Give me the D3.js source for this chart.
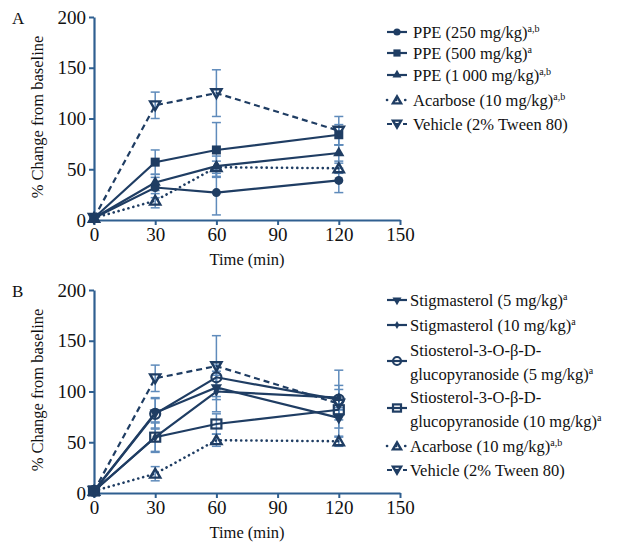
<!DOCTYPE html>
<html>
<head>
<meta charset="utf-8">
<script src="https://cdn.jsdelivr.net/npm/d3@7"></script>
<style>
  body { margin: 0; background: #fff; }
  text { font-family: "Liberation Serif", "DejaVu Serif", serif; fill: #111; }
</style>
</head>
<body>
<div id="chart"></div>
<script>
const times = [0, 30, 60, 120];
const xTicks = [0, 30, 60, 90, 120, 150];
const yTicks = [0, 50, 100, 150, 200];

// panel A
const ppe250 = [2, 32, 27, 39];
const ppe250Err = [0, 10, 22, 12];
const ppe500 = [2, 57, 69, 84];
const ppe500Err = [0, 12, 27, 10];
const ppe1000 = [2, 37, 53, 66];
const ppe1000Err = [0, 8, 10, 8];
const acarboseA = [2, 19, 52, 51];
const acarboseAErr = [0, 7, 6, 5];
const vehicleA = [2, 113, 125, 88];
const vehicleAErr = [0, 13, 23, 14];

// panel B
const stig5 = [2, 79, 104, 74];
const stig5Err = [0, 15, 12, 10];
const stig10 = [2, 55, 100, 94];
const stig10Err = [0, 14, 20, 12];
const stio5 = [2, 78, 114, 92];
const stio5Err = [0, 15, 12, 10];
const stio10 = [2, 55, 68, 82];
const stio10Err = [0, 15, 10, 10];
const acarboseB = [2, 19, 52, 51];
const acarboseBErr = [0, 7, 6, 5];
const vehicleB = [2, 113, 125, 88];
const vehicleBErr = [0, 13, 30, 33];

const lineCol = "#1f3d63";
const axisCol = "#2f5f90";
const errCol = "#5f8bbb";

const svg = d3.select("#chart").append("svg")
  .attr("width", 625).attr("height", 542);

// marker shapes
function drawMarker(g, type, x, y, s) {
  s = s || 1;
  if (type === "circle") {
    g.append("circle").attr("cx", x).attr("cy", y).attr("r", 4.5 * s).attr("fill", lineCol);
  } else if (type === "square") {
    g.append("rect").attr("x", x - 4.5 * s).attr("y", y - 4.5 * s).attr("width", 9 * s).attr("height", 9 * s).attr("fill", lineCol);
  } else if (type === "tri") {
    g.append("path").attr("d", d3.symbol(d3.symbolTriangle, 55 * s * s)()).attr("transform", `translate(${x},${y})`).attr("fill", lineCol);
  } else if (type === "otri") {
    g.append("path").attr("d", d3.symbol(d3.symbolTriangle, 45 * s * s)()).attr("transform", `translate(${x},${y + 1})`)
      .attr("fill", "none").attr("stroke", lineCol).attr("stroke-width", 2.4);
  } else if (type === "oinv") {
    g.append("path").attr("d", d3.symbol(d3.symbolTriangle, 45 * s * s)()).attr("transform", `translate(${x},${y - 1}) rotate(180)`)
      .attr("fill", "none").attr("stroke", lineCol).attr("stroke-width", 2.4);
  } else if (type === "inv") {
    g.append("path").attr("d", d3.symbol(d3.symbolTriangle, 55 * s * s)()).attr("transform", `translate(${x},${y}) rotate(180)`).attr("fill", lineCol);
  } else if (type === "dot") {
    g.append("path").attr("d", d3.symbol(d3.symbolDiamond, 30 * s * s)()).attr("transform", `translate(${x},${y})`).attr("fill", lineCol);
  } else if (type === "ocircle") {
    g.append("circle").attr("cx", x).attr("cy", y).attr("r", 5 * s).attr("fill", "none").attr("stroke", lineCol).attr("stroke-width", 2.2);
  } else if (type === "osquare") {
    g.append("rect").attr("x", x - 5 * s).attr("y", y - 4.5 * s).attr("width", 10 * s).attr("height", 9 * s)
      .attr("fill", "none").attr("stroke", lineCol).attr("stroke-width", 2.2);
  }
}

const dashes = { solid: null, dashed: "6,4", dotted: "0.1,5" };

function panel(opts) {
  const x = d3.scaleLinear().domain([0, 150]).range([94, 400]);
  const y = d3.scaleLinear().domain([0, 200]).range([opts.y0, opts.y0 - 203]);
  const g = svg.append("g");

  // axes
  const xa = g.append("g").attr("transform", `translate(0,${opts.y0})`)
    .call(d3.axisBottom(x).tickValues(xTicks).tickSize(5).tickPadding(3).tickSizeOuter(0));
  const ya = g.append("g").attr("transform", "translate(94,0)")
    .call(d3.axisLeft(y).tickValues(yTicks).tickSize(5).tickPadding(3).tickSizeOuter(0));
  [xa, ya].forEach(a => {
    a.select(".domain").attr("stroke", axisCol).attr("stroke-width", 2.2);
    a.selectAll(".tick line").attr("stroke", axisCol).attr("stroke-width", 2);
    a.selectAll(".tick text").style("font-family", "Liberation Serif").style("font-size", "19px").attr("fill", "#111");
  });

  g.append("text").attr("x", 12).attr("y", opts.y0 - 196).style("font-size", "17px").text(opts.label);
  g.append("text").attr("transform", `translate(43,${opts.y0 - 103}) rotate(-90)`)
    .attr("text-anchor", "middle").style("font-size", "16.5px").text("% Change from baseline");
  g.append("text").attr("x", 247).attr("y", opts.y0 + 45).attr("text-anchor", "middle")
    .style("font-size", "16.5px").text("Time (min)");

  // error bars
  opts.series.forEach(s => {
    s.values.forEach((v, i) => {
      const e = s.err[i];
      if (!e) return;
      const cx = x(times[i]);
      g.append("line").attr("x1", cx).attr("x2", cx).attr("y1", y(v - e)).attr("y2", y(v + e))
        .attr("stroke", errCol).attr("stroke-width", 1.5);
      [v - e, v + e].forEach(t => {
        g.append("line").attr("x1", cx - 4.5).attr("x2", cx + 4.5).attr("y1", y(t)).attr("y2", y(t))
          .attr("stroke", errCol).attr("stroke-width", 1.5);
      });
    });
  });

  const line = d3.line().x((d, i) => x(times[i])).y(d => y(d));
  opts.series.forEach(s => {
    g.append("path").attr("d", line(s.values)).attr("fill", "none")
      .attr("stroke", lineCol).attr("stroke-width", s.dash === "dotted" ? 2.6 : 2.2)
      .attr("stroke-dasharray", dashes[s.dash]).attr("stroke-linecap", s.dash === "dotted" ? "round" : "butt");
  });
  opts.series.forEach(s => {
    s.values.forEach((v, i) => drawMarker(g, s.marker, x(times[i]), y(v)));
  });

  // legend
  opts.series.forEach((s, k) => {
    const ly = opts.legendY[k];
    const my = ly + (s.lines.length > 1 ? 11 : 0);
    g.append("line").attr("x1", 387).attr("x2", 407).attr("y1", my).attr("y2", my)
      .attr("stroke", lineCol).attr("stroke-width", s.dash === "dotted" ? 2.6 : 2.2)
      .attr("stroke-dasharray", s.dash === "dotted" ? "0.1,9" : s.dash === "dashed" ? "5,3" : null)
      .attr("stroke-linecap", s.dash === "dotted" ? "round" : "butt");
    drawMarker(g, s.marker, 397, my, 0.8);
    s.lines.forEach((ln, j) => {
      const t = g.append("text").attr("x", opts.textX).attr("y", ly + j * 24).attr("dy", "0.35em")
        .style("font-size", "16.5px");
      t.append("tspan").text(ln);
      if (j === s.lines.length - 1 && s.sup) {
        t.append("tspan").attr("dy", "-0.6em").style("font-size", "10px").text(s.sup);
      }
    });
  });
}

panel({
  y0: 220, label: "A", textX: 413,
  legendY: [32, 53, 75, 100, 124],
  series: [
    { values: ppe250, err: ppe250Err, marker: "circle", dash: "solid", lines: ["PPE (250 mg/kg)"], sup: "a,b" },
    { values: ppe500, err: ppe500Err, marker: "square", dash: "solid", lines: ["PPE (500 mg/kg)"], sup: "a" },
    { values: ppe1000, err: ppe1000Err, marker: "tri", dash: "solid", lines: ["PPE (1\u2009000 mg/kg)"], sup: "a,b" },
    { values: acarboseA, err: acarboseAErr, marker: "otri", dash: "dotted", lines: ["Acarbose (10 mg/kg)"], sup: "a,b" },
    { values: vehicleA, err: vehicleAErr, marker: "oinv", dash: "dashed", lines: ["Vehicle (2% Tween 80)"], sup: "" }
  ]
});

panel({
  y0: 493, label: "B", textX: 410,
  legendY: [300, 325, 350, 397, 446, 470],
  series: [
    { values: stig5, err: stig5Err, marker: "inv", dash: "solid", lines: ["Stigmasterol (5 mg/kg)"], sup: "a" },
    { values: stig10, err: stig10Err, marker: "dot", dash: "solid", lines: ["Stigmasterol (10 mg/kg)"], sup: "a" },
    { values: stio5, err: stio5Err, marker: "ocircle", dash: "solid", lines: ["Stiosterol-3-O-\u03b2-D-", "glucopyranoside (5 mg/kg)"], sup: "a" },
    { values: stio10, err: stio10Err, marker: "osquare", dash: "solid", lines: ["Stiosterol-3-O-\u03b2-D-", "glucopyranoside (10 mg/kg)"], sup: "a" },
    { values: acarboseB, err: acarboseBErr, marker: "otri", dash: "dotted", lines: ["Acarbose (10 mg/kg)"], sup: "a,b" },
    { values: vehicleB, err: vehicleBErr, marker: "oinv", dash: "dashed", lines: ["Vehicle (2% Tween 80)"], sup: "" }
  ]
});
</script>
</body>
</html>
